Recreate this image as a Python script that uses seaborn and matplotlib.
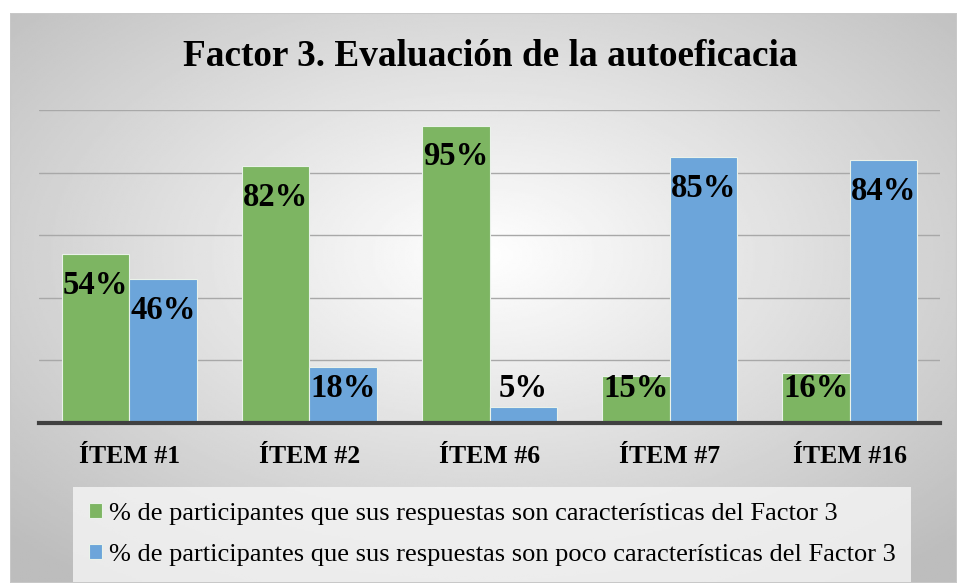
import numpy as np
import pandas as pd
import matplotlib.pyplot as plt
import seaborn as sns

# datos del gráfico
items = ['ÍTEM #1', 'ÍTEM #2', 'ÍTEM #6', 'ÍTEM #7', 'ÍTEM #16']
series = ['% de participantes que sus respuestas son características del Factor 3',
          '% de participantes que sus respuestas son poco características del Factor 3']
caracteristicas = [54, 82, 95, 15, 16]
poco_caracteristicas = [46, 18, 5, 85, 84]

colores = ['#7DB562', '#6CA5DA']

df = pd.DataFrame({
    'item': items * 2,
    'serie': [series[0]] * len(items) + [series[1]] * len(items),
    'pct': caracteristicas + poco_caracteristicas,
})

sns.set_theme(style='white')
plt.rcParams['font.family'] = ['Liberation Serif', 'DejaVu Serif']
plt.rcParams['text.color'] = 'black'
plt.rcParams['xtick.color'] = 'black'

W, H = 957, 583
fig = plt.figure(figsize=(W / 100, H / 100), dpi=100)

# fondo con degradado radial
bg = fig.add_axes([10 / W, 0, 1 - 10 / W, 1 - 13 / H])
yy, xx = np.mgrid[-1:1:300j, -1:1:500j]
r = np.sqrt(xx ** 2 + (yy + 0.15) ** 2) / np.sqrt(2)
bg.imshow(1 - 0.26 * np.clip(r, 0, 1), cmap='gray', vmin=0, vmax=1,
          aspect='auto', extent=[0, 1, 0, 1])
bg.set_axis_off()
bg.add_patch(plt.Rectangle((0, 0), 1, 1, fill=False, ec='#C8C8C8', lw=1.5,
                           transform=bg.transAxes))

ax = fig.add_axes([39 / W, 160 / H, 901 / W, 313 / H])
ax.patch.set_alpha(0)
sns.barplot(data=df, x='item', y='pct', hue='serie', palette=colores,
            width=0.75, gap=0, saturation=1, edgecolor='#EAF2EA',
            linewidth=0.8, ax=ax, legend=True, zorder=3)

ax.set_ylim(0, 100)
ax.set_xlim(-0.5, len(items) - 0.5)
ax.set_yticks([20, 40, 60, 80, 100])
ax.set_yticklabels([])
ax.tick_params(left=False, bottom=False)
ax.grid(axis='y', color='#A8A8A8', lw=1, zorder=0)
ax.set_axisbelow(True)
for side in ['top', 'right', 'left']:
    ax.spines[side].set_visible(False)
ax.spines['bottom'].set_color('#404040')
ax.spines['bottom'].set_linewidth(3)
ax.spines['bottom'].set_zorder(5)
ax.set_xlabel('')
ax.set_ylabel('')
for lbl in ax.get_xticklabels():
    lbl.set_fontweight('bold')
    lbl.set_fontsize(18.5)
ax.tick_params(axis='x', pad=10)

# etiquetas de valor
for cont in ax.containers:
    for bar in cont:
        v = bar.get_height()
        x = bar.get_x() + bar.get_width() / 2
        ax.text(x, max(v - 10, 11), f'{v:.0f}%', ha='center', va='center',
                fontsize=23.5, fontweight='bold', color='black', zorder=6)

handles, labels = ax.get_legend_handles_labels()
ax.get_legend().remove()
leg = fig.legend(handles, labels, loc='upper left',
                 bbox_to_anchor=(73 / W, 1 - 487 / H), frameon=True,
                 fontsize=19, handlelength=0.5, handleheight=0.5,
                 handletextpad=0.25, labelspacing=0.72, borderpad=0.6,
                 borderaxespad=0)
leg.get_frame().set_facecolor('#F6F6F6')
leg.get_frame().set_edgecolor('none')
leg.get_frame().set_alpha(0.8)
leg.get_frame().set_boxstyle('square', pad=0)

fig.text(490 / W, 1 - 57 / H, 'Factor 3. Evaluación de la autoeficacia',
         ha='center', va='center', fontsize=26.8, fontweight='bold')

fig.savefig('out.png', dpi=100, facecolor='white')
